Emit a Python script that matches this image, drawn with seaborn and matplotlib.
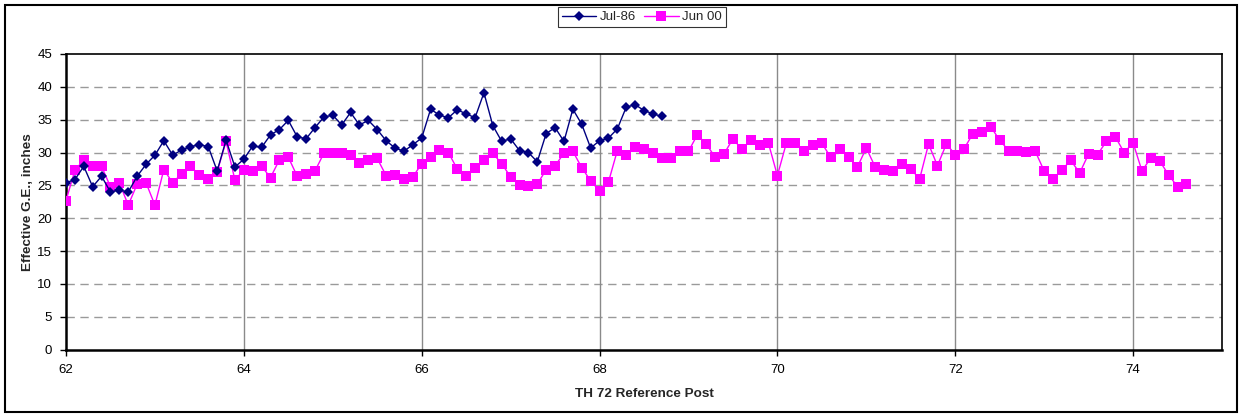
import numpy as np
import pandas as pd
import matplotlib
matplotlib.use("Agg")
import matplotlib.pyplot as plt
import seaborn as sns
from matplotlib.lines import Line2D
from matplotlib.patches import Rectangle

# ---- data ----
jul86_start, jun00_start, post_step = 62.0, 62.0, 0.1
jul86_values = [25.4, 25.9, 27.9, 24.8, 26.4, 24.0, 24.3, 24.0, 26.4, 28.2,
                29.6, 31.8, 29.6, 30.4, 30.9, 31.2, 30.9, 27.2, 31.9, 27.8,
                29.0, 31.0, 30.8, 32.7, 33.5, 34.9, 32.4, 32.1, 33.8, 35.4,
                35.7, 34.2, 36.1, 34.2, 34.9, 33.5, 31.8, 30.7, 30.2, 31.2,
                32.2, 36.6, 35.7, 35.3, 36.5, 35.9, 35.3, 39.1, 34.1, 31.7,
                32.1, 30.3, 30.0, 28.6, 32.9, 33.8, 31.7, 36.6, 34.3, 30.7,
                31.8, 32.2, 33.6, 36.9, 37.3, 36.4, 35.9, 35.5]
jun00_values = [22.7, 27.3, 28.9, 28.0, 27.9, 24.8, 25.4, 22.0, 25.2, 25.4,
                22.0, 27.4, 25.4, 26.8, 27.9, 26.6, 26.0, 27.1, 31.7, 25.8,
                27.4, 27.2, 27.9, 26.2, 28.9, 29.3, 26.4, 26.8, 27.2, 29.9,
                29.9, 30.0, 29.6, 28.4, 28.9, 29.1, 26.5, 26.6, 26.0, 26.3,
                28.3, 29.4, 30.4, 30.0, 27.5, 26.5, 27.7, 28.8, 29.9, 28.3,
                26.3, 25.0, 24.9, 25.2, 27.4, 28.0, 29.9, 30.2, 27.7, 25.7,
                24.2, 25.5, 30.3, 29.6, 30.8, 30.5, 30.0, 29.2, 29.1, 30.3,
                30.2, 32.7, 31.3, 29.3, 29.8, 32.1, 30.5, 31.9, 31.2, 31.4,
                26.5, 31.4, 31.5, 30.3, 31.1, 31.4, 29.3, 30.5, 29.3, 27.8,
                30.7, 27.8, 27.3, 27.2, 28.3, 27.5, 26.0, 31.3, 28.0, 31.3,
                29.7, 30.6, 32.9, 33.1, 33.9, 31.9, 30.3, 30.3, 30.1, 30.2,
                27.2, 26.0, 27.4, 28.8, 26.9, 29.8, 29.7, 31.7, 32.4, 30.0,
                31.5, 27.2, 29.2, 28.7, 26.6, 24.8, 25.2]
series_names = ["Jul-86", "Jun 00"]
x_ticks = [62, 64, 66, 68, 70, 72, 74]
y_ticks = [0, 5, 10, 15, 20, 25, 30, 35, 40, 45]
x_label = "TH 72 Reference Post"
y_label = "Effective G.E., inches"

jul86_post = np.round(jul86_start + post_step * np.arange(len(jul86_values)), 1)
jun00_post = np.round(jun00_start + post_step * np.arange(len(jun00_values)), 1)

df = pd.concat([
    pd.DataFrame({"post": jul86_post, "ge": jul86_values, "series": series_names[0]}),
    pd.DataFrame({"post": jun00_post, "ge": jun00_values, "series": series_names[1]}),
], ignore_index=True)

# ---- style ----
sns.set_theme(style="white")
plt.rcParams["font.family"] = ["Liberation Sans", "DejaVu Sans"]

colors = {"Jul-86": "#000080", "Jun 00": "#FF00FF"}

fig = plt.figure(figsize=(12.43, 4.15), dpi=100)
ax = fig.add_axes([66 / 1243, 1 - 349.7 / 415, (1222 - 66) / 1243, (349.7 - 54) / 415])

# plot Jun 00 first so Jul-86 is on top
sns.lineplot(data=df[df.series == "Jun 00"], x="post", y="ge", ax=ax,
             color=colors["Jun 00"], marker="s", markersize=6.5,
             markeredgewidth=0, linewidth=1.0, legend=False, zorder=3)
sns.lineplot(data=df[df.series == "Jul-86"], x="post", y="ge", ax=ax,
             color=colors["Jul-86"], marker="D", markersize=5,
             markeredgewidth=0, linewidth=1.0, legend=False, zorder=4)

ax.set_xlim(62, 75)
ax.set_ylim(0, 45)
ax.set_xticks(x_ticks)
ax.set_yticks(y_ticks)
ax.set_xticklabels([str(t) for t in x_ticks], fontsize=9.5)
ax.set_yticklabels([str(t) for t in y_ticks], fontsize=9.5)
ax.tick_params(axis="both", direction="out", length=4, width=1, color="black",
               pad=6, labelcolor="black", bottom=True, left=True)

# gridlines
for yv in y_ticks[1:-1]:
    ax.axhline(yv, color="#9a9a9a", linestyle=(0, (6, 4)), linewidth=1.0, zorder=1)
for xv in x_ticks[1:]:
    ax.axvline(xv, color="#8a8a8a", linestyle="-", linewidth=1.0, zorder=1)

for sp in ax.spines.values():
    sp.set_visible(True)
    sp.set_color("black")
    sp.set_linewidth(1.2)
ax.spines["left"].set_linewidth(1.8)
ax.spines["bottom"].set_linewidth(1.8)

ax.set_xlabel(x_label, fontsize=9.7, fontweight="bold", labelpad=9)
ax.set_ylabel(y_label, fontsize=9.7, fontweight="bold", labelpad=2)

handles = [Line2D([0], [0], color=colors[n], marker=m, markersize=ms, linewidth=1.0,
                  markeredgewidth=0)
           for n, m, ms in zip(series_names, ["D", "s"], [5, 6.5])]
leg = fig.legend(handles, series_names, loc="upper center", bbox_to_anchor=(642 / 1243, 1 - 7 / 415),
                 ncol=2, fontsize=9.5, frameon=True, fancybox=False, edgecolor="black",
                 handlelength=2.6, handletextpad=0.3, columnspacing=0.6, borderpad=0.3,
                 borderaxespad=0)
leg.get_frame().set_linewidth(0.8)

# outer chart border
fig.patches.append(Rectangle((5 / 1243, 3 / 415), (1237 - 5) / 1243, (411 - 4) / 415,
                             transform=fig.transFigure, fill=False, edgecolor="black",
                             linewidth=1.5))

fig.savefig("out.png", dpi=100)
